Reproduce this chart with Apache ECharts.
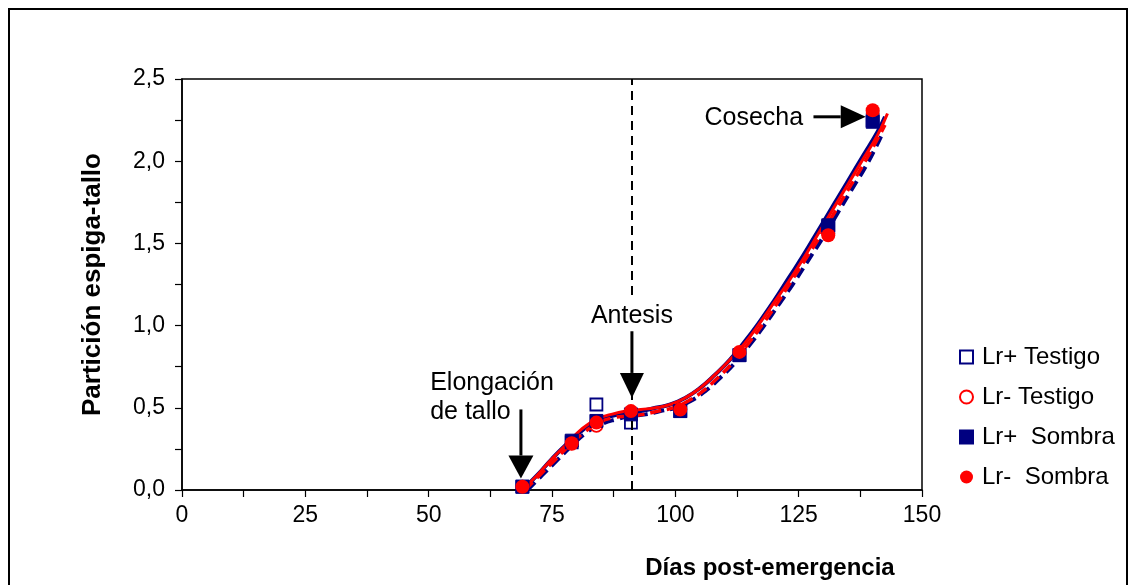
<!DOCTYPE html>
<html>
<head>
<meta charset="utf-8">
<script src="https://cdn.jsdelivr.net/npm/echarts@6/dist/echarts.min.js"></script>
<style>
  html, body { margin: 0; padding: 0; background: #fff; }
  #chart { width: 1130px; height: 585px; }
</style>
</head>
<body>
<div id="chart"></div>
<script>
// Observed partition values (spike/stem) by days after emergence
const lrPlusTestigo = [[69, 0.02], [79, 0.29], [84, 0.52], [91, 0.41], [101, 0.48], [113, 0.82], [131, 1.60], [140, 2.25]];
const lrMinusTestigo = [[69, 0.02], [79, 0.28], [84, 0.39], [91, 0.47], [101, 0.49], [113, 0.83], [131, 1.56], [140, 2.30]];
const lrPlusSombra = [[69, 0.02], [79, 0.30], [84, 0.42], [91, 0.46], [101, 0.48], [113, 0.82], [131, 1.61], [140, 2.24]];
const lrMinusSombra = [[69, 0.02], [79, 0.285], [84, 0.41], [91, 0.48], [101, 0.49], [113, 0.84], [131, 1.55], [140, 2.31]];

// Fitted curves
const fitLrPlusSolid = [[69, 0.0], [72, 0.09], [75, 0.19], [78, 0.28], [81, 0.36], [84, 0.42], [87, 0.45], [90, 0.47], [93, 0.48], [96, 0.50], [99, 0.52], [102, 0.56], [105, 0.62], [108, 0.70], [111, 0.79], [114, 0.90], [117, 1.02], [120, 1.15], [123, 1.29], [126, 1.43], [129, 1.58], [132, 1.73], [135, 1.88], [138, 2.03], [141, 2.18], [142.5, 2.27]];
const fitLrMinusSolid = [[69, 0.0], [72, 0.09], [75, 0.19], [78, 0.28], [81, 0.37], [84, 0.43], [87, 0.46], [90, 0.48], [93, 0.49], [96, 0.50], [99, 0.52], [102, 0.56], [105, 0.62], [108, 0.70], [111, 0.79], [114, 0.89], [117, 1.01], [120, 1.14], [123, 1.27], [126, 1.41], [129, 1.56], [132, 1.71], [135, 1.86], [138, 2.01], [141, 2.16], [143, 2.29]];
const fitLrPlusDashed = [[70, 0.0], [73, 0.09], [76, 0.18], [79, 0.27], [82, 0.35], [85, 0.40], [88, 0.43], [91, 0.45], [94, 0.46], [97, 0.48], [100, 0.50], [103, 0.54], [106, 0.60], [109, 0.68], [112, 0.77], [115, 0.88], [118, 1.00], [121, 1.13], [124, 1.26], [127, 1.40], [130, 1.54], [133, 1.69], [136, 1.84], [139, 1.99], [142, 2.17]];
const fitLrMinusDashed = [[69.5, 0.0], [72.5, 0.09], [75.5, 0.18], [78.5, 0.27], [81.5, 0.35], [84.5, 0.41], [87.5, 0.44], [90.5, 0.45], [93.5, 0.46], [96.5, 0.48], [99.5, 0.50], [102.5, 0.54], [105.5, 0.60], [108.5, 0.68], [111.5, 0.77], [114.5, 0.88], [117.5, 1.00], [120.5, 1.13], [123.5, 1.27], [126.5, 1.41], [129.5, 1.55], [132.5, 1.70], [135.5, 1.85], [138.5, 2.00], [142.5, 2.22]];

// Day of anthesis (vertical reference)
const antesisDay = 91.2;

const NAVY = '#000080';
const RED = '#ff0000';
const FONT = '"Liberation Sans", Arial, sans-serif';

const fmtComma = v => v.toFixed(1).replace('.', ',');
const isMultiple = (v, step) => Math.abs(v / step - Math.round(v / step)) < 1e-6;

function curve(name, data, color, type, width) {
  return {
    name: name, type: 'line', data: data, smooth: true, showSymbol: false,
    symbol: 'none', silent: true, z: 2,
    lineStyle: { color: color, width: width, type: type }
  };
}

const option = {
  backgroundColor: '#fff',
  animation: false,
  textStyle: { fontFamily: FONT },
  grid: {
    left: 182, right: 208, top: 79, bottom: 95,
    show: true, borderColor: '#000', borderWidth: 1.5, backgroundColor: '#fff'
  },
  legend: {
    orient: 'vertical', left: 954, top: 340,
    itemWidth: 13, itemHeight: 13, itemGap: 16,
    data: ['Lr+ Testigo', 'Lr- Testigo', 'Lr+  Sombra', 'Lr-  Sombra'],
    textStyle: { fontFamily: FONT, fontSize: 24, color: '#000', padding: [0, 0, 0, 4] }
  },
  xAxis: {
    type: 'value', min: 0, max: 150, interval: 12.5,
    name: 'Días post-emergencia', nameLocation: 'middle', nameGap: 66,
    nameTextStyle: { fontFamily: FONT, fontSize: 24, fontWeight: 'bold', color: '#000', padding: [0, 0, 0, 436] },
    axisLine: { show: true, onZero: false, lineStyle: { color: '#000', width: 1.5 } },
    axisTick: { show: true, inside: false, length: 7, lineStyle: { color: '#000', width: 1.2 } },
    axisLabel: {
      margin: 14, fontFamily: FONT, fontSize: 23, color: '#000',
      formatter: v => isMultiple(v, 25) ? String(v) : ''
    },
    splitLine: { show: false }
  },
  yAxis: {
    type: 'value', min: 0, max: 2.5, interval: 0.25,
    name: 'Partición espiga-tallo', nameLocation: 'middle', nameGap: 76,
    nameTextStyle: { fontFamily: FONT, fontSize: 26, fontWeight: 'bold', color: '#000' },
    axisLine: { show: true, onZero: false, lineStyle: { color: '#000', width: 1.5 } },
    axisTick: { show: true, inside: false, length: 7, lineStyle: { color: '#000', width: 1.2 } },
    axisLabel: {
      margin: 17, fontFamily: FONT, fontSize: 23, color: '#000',
      formatter: v => isMultiple(v, 0.5) ? fmtComma(v) : ''
    },
    splitLine: { show: false }
  },
  series: [
    curve('Ajuste Lr+ Sombra', fitLrPlusSolid, NAVY, 'solid', 4),
    curve('Ajuste Lr+ Testigo', fitLrPlusDashed, NAVY, [11, 6], 4),
    curve('Ajuste Lr- Testigo', fitLrMinusDashed, RED, [11, 6], 3.5),
    Object.assign(curve('Ajuste Lr- Sombra', fitLrMinusSolid, RED, 'solid', 3), {
      markLine: {
        silent: true, symbol: ['none', 'none'], label: { show: false },
        lineStyle: { color: '#000', width: 2, type: [9, 6] },
        data: [[{ coord: [antesisDay, 0] }, { coord: [antesisDay, 2.5] }]]
      }
    }),
    {
      name: 'Lr+ Testigo', type: 'scatter', data: lrPlusTestigo, z: 3,
      symbol: 'rect', symbolSize: 12,
      itemStyle: { color: '#fff', borderColor: NAVY, borderWidth: 1.8, opacity: 1 }
    },
    {
      name: 'Lr- Testigo', type: 'scatter', data: lrMinusTestigo, z: 3,
      symbol: 'circle', symbolSize: 12,
      itemStyle: { color: '#fff', borderColor: RED, borderWidth: 1.8, opacity: 1 }
    },
    {
      name: 'Lr+  Sombra', type: 'scatter', data: lrPlusSombra, z: 4,
      symbol: 'rect', symbolSize: 13,
      itemStyle: { color: NAVY, borderColor: NAVY, borderWidth: 1, opacity: 1 }
    },
    {
      name: 'Lr-  Sombra', type: 'scatter', data: lrMinusSombra, z: 5,
      symbol: 'circle', symbolSize: 14,
      itemStyle: { color: RED, borderColor: RED, borderWidth: 0, opacity: 1 }
    }
  ]
};

const chart = echarts.init(document.getElementById('chart'), null, { renderer: 'canvas' });
chart.setOption(option);

// Annotation arrows and labels, placed in data coordinates
const toPx = p => chart.convertToPixel({ gridIndex: 0 }, p);

function arrow(from, to, headLen, headWidth) {
  const a = toPx(from), b = toPx(to);
  const dx = b[0] - a[0], dy = b[1] - a[1];
  const len = Math.sqrt(dx * dx + dy * dy);
  const ux = dx / len, uy = dy / len;
  const bx = b[0] - ux * headLen, by = b[1] - uy * headLen;
  const nx = -uy * headWidth / 2, ny = ux * headWidth / 2;
  return [
    { type: 'line', z: 20, shape: { x1: a[0], y1: a[1], x2: bx, y2: by },
      style: { stroke: '#000', lineWidth: 3 } },
    { type: 'polygon', z: 20, shape: { points: [[b[0], b[1]], [bx + nx, by + ny], [bx - nx, by - ny]] },
      style: { fill: '#000' } }
  ];
}

function label(text, at, align, extra) {
  const p = toPx(at);
  return {
    type: 'text', z: 21, x: p[0], y: p[1],
    style: Object.assign({
      text: text, fill: '#000', font: '25px ' + FONT,
      align: align, verticalAlign: 'middle', lineHeight: 29
    }, extra || {})
  };
}

const frame = {
  type: 'rect', z: 30, silent: true,
  shape: { x: 9, y: 9, width: 1118, height: 620 },
  style: { fill: 'none', stroke: '#000', lineWidth: 2 }
};

chart.setOption({
  graphic: [frame]
    .concat(arrow([68.7, 0.49], [68.7, 0.07], 23, 25))
    .concat(arrow([antesisDay, 0.97], [antesisDay, 0.56], 25, 24))
    .concat(arrow([128, 2.27], [138.6, 2.27], 25, 23))
    .concat([
      label('Elongación\nde tallo', [50.3, 0.565], 'left'),
      label('Antesis', [antesisDay, 1.06], 'center', { backgroundColor: '#fff', padding: [1, 2] }),
      label('Cosecha', [125.9, 2.26], 'right')
    ])
});
</script>
</body>
</html>
